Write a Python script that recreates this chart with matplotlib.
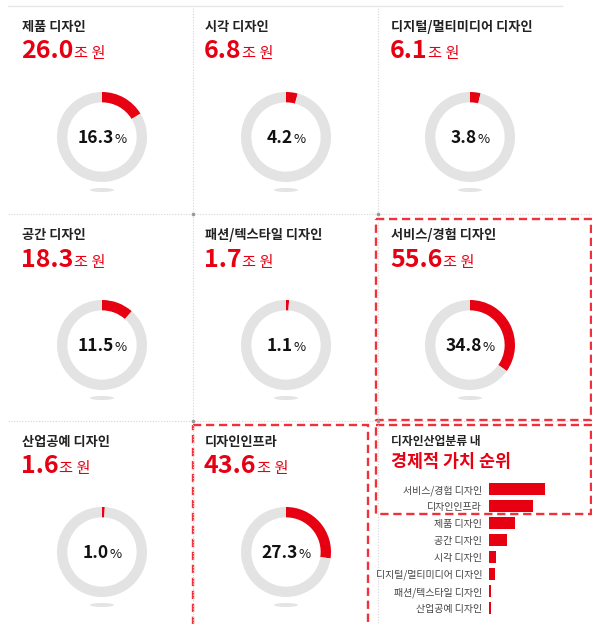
import matplotlib
matplotlib.use("Agg")
import matplotlib.pyplot as plt
from matplotlib.patches import Ellipse, Rectangle

plt.rcParams['font.family'] = ['Noto Sans CJK KR', 'DejaVu Sans']

# ---------------- data ----------------
categories = ['제품 디자인', '시각 디자인', '디지털/멀티미디어 디자인',
              '공간 디자인', '패션/텍스타일 디자인', '서비스/경험 디자인',
              '산업공예 디자인', '디자인인프라']
values = [26.0, 6.8, 6.1, 18.3, 1.7, 55.6, 1.6, 43.6]      # 조 원
shares = [16.3, 4.2, 3.8, 11.5, 1.1, 34.8, 1.0, 27.3]       # %
unit_label = '조 원'
rank_title_1 = '디자인산업분류 내'
rank_title_2 = '경제적 가치 순위'

RED = '#E60012'
BOX_RED = '#F0303A'
GRAY = '#E3E3E3'
DARK = '#222222'

W, H = 592, 624
fig = plt.figure(figsize=(W / 100, H / 100), dpi=100)
fig.patch.set_facecolor('white')


def fx(x):
    return x / W


def fy(y):
    return 1 - y / H


# background axes in pixel coordinates (y downward)
bg = fig.add_axes([0, 0, 1, 1])
bg.set_xlim(0, W)
bg.set_ylim(H, 0)
bg.axis('off')

sep = dict(color='#d4d4d4', lw=0.8, ls=(0, (1, 1.5)))
bg.plot([8, 562], [6, 6], color='#e6e6e6', lw=1.0)
bg.plot([8, 592], [214, 214], **sep)
bg.plot([8, 592], [421, 421], **sep)
bg.plot([193, 193], [8, 624], **sep)
bg.plot([378, 378], [8, 624], **sep)
for (x, y) in [(193, 214), (378, 214), (193, 421), (378, 421)]:
    bg.plot([x], [y], marker='o', ms=1.6, color='#999999')

# dashed highlight boxes
box_style = dict(fill=False, ec=BOX_RED, lw=1.7, ls=(0, (3.5, 2)))
bg.add_patch(Rectangle((376, 219), 215, 201, **box_style))
bg.add_patch(Rectangle((193, 425), 175, 210, **box_style))
bg.add_patch(Rectangle((376, 425), 215, 89, **box_style))

fig.canvas.draw()
renderer = fig.canvas.get_renderer()

col_x = [22, 205, 391]
donut_cx = [102, 286, 470]
row_title_y = [27, 235, 442]
row_val_y = [58, 267, 473]
donut_cy = [137, 345, 552]
R = 45

for i, (cat, val, sh) in enumerate(zip(categories, values, shares)):
    r, c = divmod(i, 3)
    x0 = col_x[c]
    # title
    fig.text(fx(x0), fy(row_title_y[r]), cat, fontsize=9.5, fontweight='bold',
             color=DARK, ha='left', va='center')
    # value
    t = fig.text(fx(x0 - 1), fy(row_val_y[r]), f'{val:.1f}', fontsize=18,
                 fontweight='bold', color=RED, ha='left', va='baseline')
    bb = t.get_window_extent(renderer)
    fig.text(bb.x1 / W + 0.5 / W, fy(row_val_y[r]), unit_label, fontsize=11,
             color=RED, ha='left', va='baseline')

    # donut
    cx, cy = donut_cx[c], donut_cy[r]
    ax = fig.add_axes([fx(cx - R), fy(cy + R), 2 * R / W, 2 * R / H])
    ax.pie([sh, 100 - sh], colors=[RED, GRAY], startangle=90,
           counterclock=False, radius=1,
           wedgeprops=dict(width=0.23, linewidth=0))
    ax.set_xlim(-1, 1)
    ax.set_ylim(-1, 1)
    ax.axis('off')

    # center text
    num = f'{sh:.1f}'
    tn = fig.text(0, 0, num, fontsize=12.5, fontweight='bold', color='#111111')
    tp = fig.text(0, 0, '%', fontsize=9.5, color='#111111')
    wn = tn.get_window_extent(renderer).width
    wp = tp.get_window_extent(renderer).width
    gap = 0.5
    total = wn + wp + gap
    left = cx - total / 2
    ybase = cy + 6
    tn.set_position((fx(left), fy(ybase)))
    tn.set_va('baseline')
    tp.set_position((fx(left + wn + gap), fy(ybase)))
    tp.set_va('baseline')

    # shadow ellipse
    bg.add_patch(Ellipse((cx, cy + 53), 24, 4, color='#e4e4e4', lw=0))

# ---------------- ranking panel ----------------
fig.text(fx(391), fy(442), rank_title_1, fontsize=8.5, fontweight='bold',
         color=DARK, ha='left', va='center')
fig.text(fx(391), fy(462), rank_title_2, fontsize=12.5, fontweight='bold',
         color=RED, ha='left', va='center')

order = sorted(range(len(values)), key=lambda k: -values[k])
rank_cats = [categories[k] for k in order]
rank_vals = [values[k] for k in order]

top, step = 489, 17
n = len(rank_vals)
y_top = top - step / 2
y_bot = top + step * (n - 1) + step / 2
bx0, bw = 489, 100
axb = fig.add_axes([fx(bx0), fy(y_bot), bw / W, (y_bot - y_top) / H])
pos = list(range(n))
axb.barh(pos, rank_vals, height=0.7, color=RED, lw=0)
axb.set_xlim(0, bw)
axb.set_ylim(n - 0.5, -0.5)
axb.set_yticks(pos)
axb.set_yticklabels(rank_cats, fontsize=7.2, color='#444444')
axb.tick_params(axis='y', length=0, pad=5)
axb.set_xticks([])
for s in axb.spines.values():
    s.set_visible(False)
axb.patch.set_alpha(0)

fig.savefig('out.png', dpi=100, facecolor='white')
